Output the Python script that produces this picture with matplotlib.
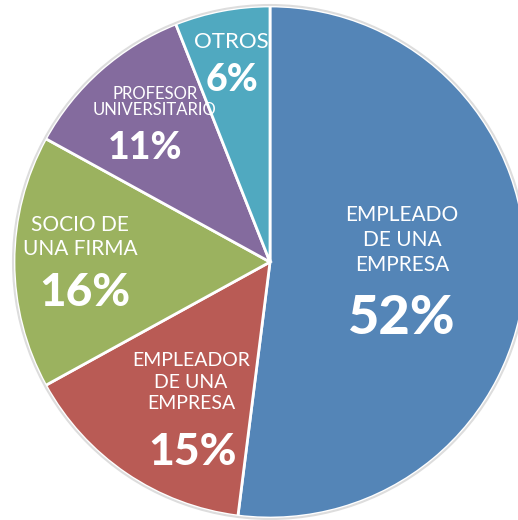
import matplotlib.pyplot as plt
from matplotlib.patches import Circle

# datos
categorias = ["EMPLEADO\nDE UNA\nEMPRESA", "EMPLEADOR\nDE UNA\nEMPRESA",
              "SOCIO DE\nUNA FIRMA", "PROFESOR\nUNIVERSITARIO", "OTROS"]
porcentajes = [52, 15, 16, 11, 6]
colores = ["#5485b7", "#b95b55", "#9bb25f", "#846b9e", "#50a9c0"]

# posiciones de texto (pixeles, y hacia abajo) y tamanos
pos_nombre = [(402, 240), (191, 382), (80, 237), (155, 102), (231, 42)]
pos_pct = [(402, 318), (193, 452), (85, 293), (145, 148), (232, 80)]
tam_nombre = [15, 14, 15, 12, 16]
tam_pct = [39, 32, 33, 27, 27]
espaciado = [1.3, 1.3, 1.2, 1.05, 1.0]

W, H = 518, 520
fig = plt.figure(figsize=(W / 100, H / 100), dpi=100)
ax = fig.add_axes([0, 0, 1, 1])

cx, cy, R = 270, H - 262, 256
ax.pie(porcentajes, colors=colores, startangle=90, counterclock=False,
       center=(cx, cy), radius=R, frame=True,
       wedgeprops=dict(edgecolor="white", linewidth=2))
ax.add_patch(Circle((cx, cy), R + 1, fill=False, edgecolor="#dddddd", lw=1.5))
ax.set_xlim(0, W)
ax.set_ylim(0, H)
ax.set_aspect("equal")
ax.axis("off")

fuente = ["Lato", "DejaVu Sans"]
for i, nombre in enumerate(categorias):
    x, y = pos_nombre[i]
    ax.text(x, H - y, nombre, color="white", fontsize=tam_nombre[i],
            ha="center", va="center", multialignment="center",
            linespacing=espaciado[i], family=fuente)
    x, y = pos_pct[i]
    ax.text(x, H - y, f"{porcentajes[i]}%", color="white", fontsize=tam_pct[i],
            ha="center", va="center", fontweight="black", family=fuente)

fig.savefig("out.png", dpi=100)
